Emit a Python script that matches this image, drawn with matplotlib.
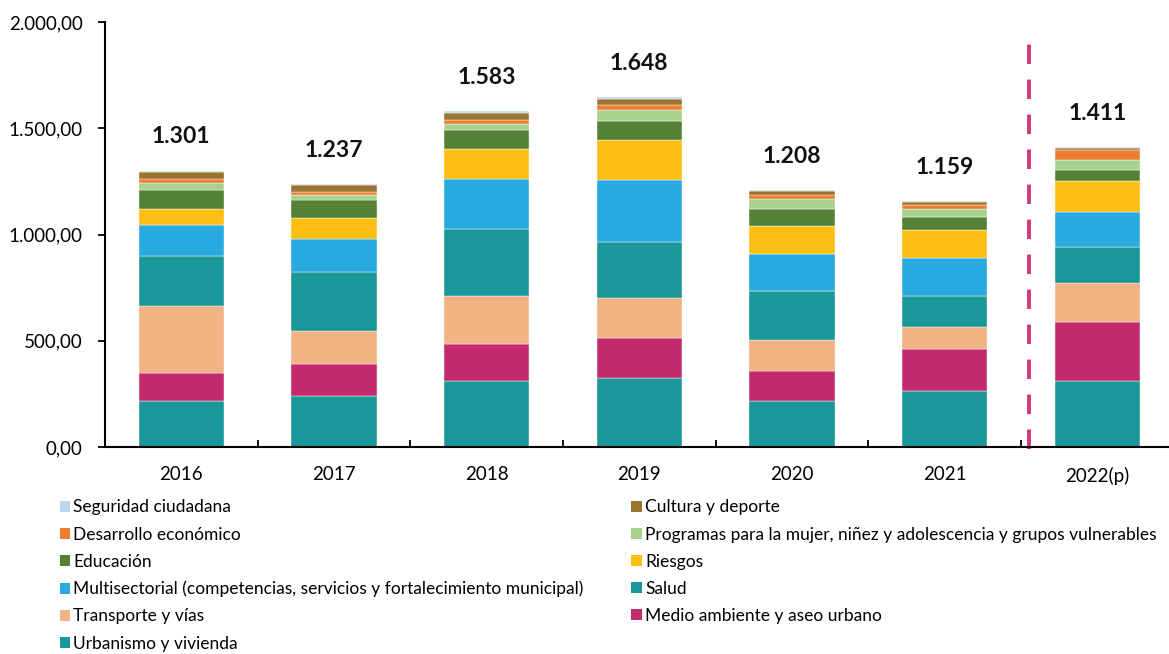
import matplotlib.pyplot as plt
from matplotlib.patches import Patch

plt.rcParams['font.family'] = ['Lato', 'DejaVu Sans']

years = ["2016", "2017", "2018", "2019", "2020", "2021", "2022(p)"]
totals = [1301, 1237, 1583, 1648, 1208, 1159, 1411]

# stacked from bottom to top
urbanismo = [215, 239, 311, 327, 215, 263, 313]
medio_ambiente = [133, 154, 175, 187, 142, 196, 273]
transporte = [317, 151, 223, 187, 148, 108, 184]
salud = [233, 278, 319, 263, 228, 142, 173]
multisectorial = [146, 159, 235, 291, 173, 182, 162]
riesgos = [74, 96, 141, 192, 133, 129, 145]
educacion = [93, 85, 88, 85, 82, 62, 55]
programas = [31, 22, 27, 56, 47, 39, 47]
desarrollo = [19, 14, 20, 20, 16, 20, 44]
cultura = [33, 33, 33, 32, 19, 13, 11]
seguridad = [7, 6, 11, 8, 5, 5, 4]

series = [
    ("Urbanismo y vivienda", urbanismo, "#1A9899"),
    ("Medio ambiente y aseo urbano", medio_ambiente, "#C42B6F"),
    ("Transporte y vías", transporte, "#F1B384"),
    ("Salud", salud, "#1A9899"),
    ("Multisectorial (competencias, servicios y fortalecimiento municipal)", multisectorial, "#29ABE2"),
    ("Riesgos", riesgos, "#FDBF14"),
    ("Educación", educacion, "#548235"),
    ("Programas para la mujer, niñez y adolescencia y grupos vulnerables", programas, "#A9D18E"),
    ("Desarrollo económico", desarrollo, "#ED7D31"),
    ("Cultura y deporte", cultura, "#9A7430"),
    ("Seguridad ciudadana", seguridad, "#BDD7EE"),
]

fig = plt.figure(figsize=(11.69, 6.54), dpi=100)
ax = fig.add_axes([0.0898, 0.3165, 0.9102, 0.6498])

x = list(range(len(years)))
bottom = [0] * len(years)
for name, vals, col in series:
    ax.bar(x, vals, width=0.56, bottom=bottom, color=col,
           edgecolor="white", linewidth=0.3)
    bottom = [b + v for b, v in zip(bottom, vals)]

for xi, top, t in zip(x, bottom, totals):
    ax.text(xi, top + 158, f"{t:,}".replace(",", "."), ha="center", va="center",
            fontsize=16.5, fontweight="bold", color="#111111")

# projection divider
ax.plot([5.553, 5.553], [-10, 1930], color="#D4377F", linewidth=2.8,
        linestyle=(0, (5, 4)), clip_on=False)

ax.set_xlim(-0.5, 6.47)
ax.set_ylim(0, 2000)
ax.set_yticks([0, 500, 1000, 1500, 2000])
ax.set_yticklabels(["0,00", "500,00", "1.000,00", "1.500,00", "2.000,00"])
ax.set_xticks(x)
ax.set_xticklabels(years)
ax.set_xticks([i + 0.5 for i in range(len(years) - 1)], minor=True)
ax.tick_params(axis="x", which="major", length=0, labelsize=13.5, pad=14)
ax.tick_params(axis="x", which="minor", direction="in", length=5, width=1.3)
ax.tick_params(axis="y", direction="out", length=5, width=1.3, labelsize=13.5, pad=11)
for s in ["top", "right"]:
    ax.spines[s].set_visible(False)
for s in ["left", "bottom"]:
    ax.spines[s].set_linewidth(1.5)

lookup = {name: col for name, vals, col in series}
left_col = ["Seguridad ciudadana", "Desarrollo económico", "Educación",
            "Multisectorial (competencias, servicios y fortalecimiento municipal)",
            "Transporte y vías", "Urbanismo y vivienda"]
right_col = ["Cultura y deporte",
             "Programas para la mujer, niñez y adolescencia y grupos vulnerables",
             "Riesgos", "Salud", "Medio ambiente y aseo urbano"]

for names, xpos in [(left_col, 0.045), (right_col, 0.534)]:
    handles = [Patch(facecolor=lookup[n], label=n) for n in names]
    fig.legend(handles=handles, loc="upper left", bbox_to_anchor=(xpos, 0.247),
               frameon=False, fontsize=12.5, handlelength=0.6, handleheight=0.6,
               handletextpad=0.2, labelspacing=0.64, borderaxespad=0)

fig.savefig("out.png", dpi=100)
